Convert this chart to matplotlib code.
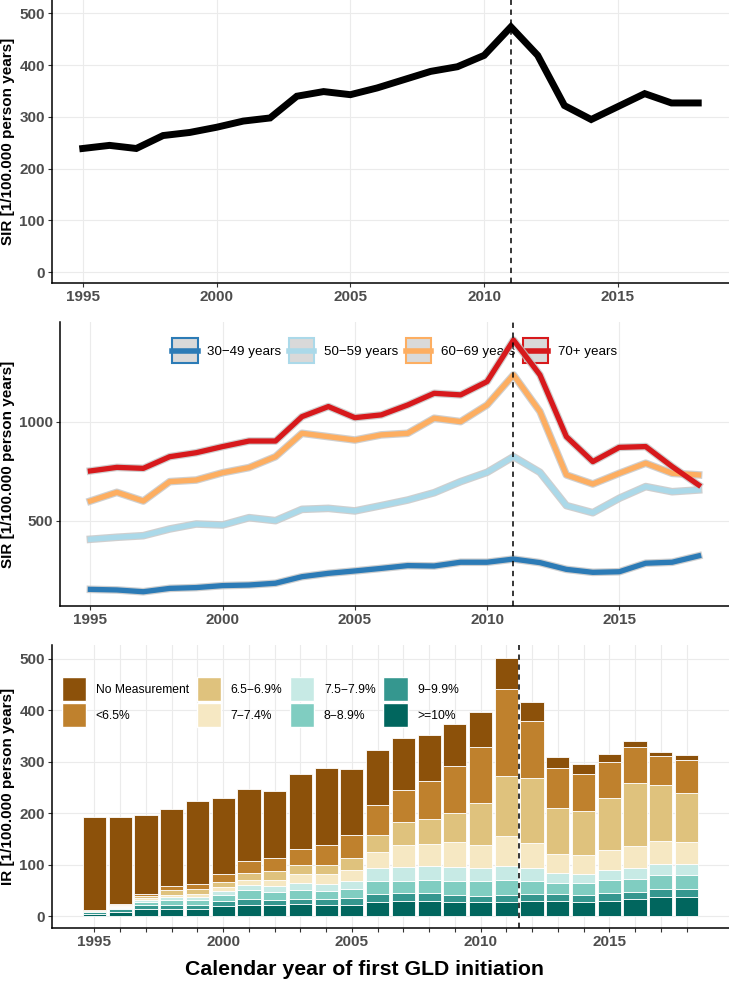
import matplotlib
matplotlib.use('Agg')
import matplotlib.pyplot as plt
from matplotlib.patches import Patch
from matplotlib.lines import Line2D
from matplotlib.legend_handler import HandlerLine2D

years = list(range(1995, 2019))

# overall SIR
sir_total = [239, 245, 239, 264, 270, 280, 292, 298, 340, 349, 343, 356,
             372, 388, 397, 419, 474, 419, 322, 295, 320, 345, 327, 327]

# SIR by age group
age_labels = ['30\u221249 years', '50\u221259 years', '60\u221269 years', '70+ years']
sir_30 = [153, 150, 141, 158, 162, 172, 175, 184, 217, 234, 246, 259,
          273, 271, 290, 290, 306, 288, 254, 239, 242, 285, 290, 322]
sir_50 = [406, 416, 424, 458, 483, 478, 515, 500, 557, 562, 549, 576,
          604, 641, 697, 744, 823, 744, 576, 540, 613, 672, 646, 655]
sir_60 = [599, 643, 599, 697, 705, 742, 768, 823, 941, 924, 907, 933,
          941, 1017, 1000, 1084, 1236, 1051, 731, 685, 739, 790, 739, 731]
sir_70 = [751, 769, 764, 823, 843, 874, 902, 902, 1025, 1076, 1020, 1034,
          1084, 1143, 1135, 1202, 1412, 1236, 924, 798, 870, 874, 773, 680]

# IR by HbA1c category, stacked bottom to top
hb_labels = ['>=10%', '9\u22129.9%', '8\u22128.9%', '7.5\u22127.9%',
             '7\u22127.4%', '6.5\u22126.9%', '<6.5%', 'No Measurement']
ge10 = [5, 8, 14, 14, 14, 19, 21, 21, 23, 21, 21, 27, 29, 29, 27, 27, 27, 29, 29, 27, 29, 33, 37, 38]
h9 = [3, 6, 7, 8, 8, 10, 13, 11, 11, 12, 14, 17, 16, 16, 15, 13, 15, 15, 15, 14, 16, 14, 16, 15]
h8 = [1.5, 2, 6, 10, 10, 13, 16, 15, 17, 16, 18, 25, 24, 26, 27, 28, 29, 25, 20, 24, 26, 26, 27, 27]
h75 = [0.5, 1.5, 5, 5, 6, 7, 10, 11, 13, 14, 15, 25, 26, 26, 26, 26, 26, 24, 20, 17, 19, 21, 22, 21]
h7 = [0.5, 2, 3, 5, 6, 7, 11, 13, 17, 18, 22, 31, 43, 43, 49, 45, 58, 50, 36, 36, 39, 43, 45, 43]
h65 = [0.5, 1.5, 4, 8, 9, 11, 13, 16, 18, 18, 24, 32, 45, 48, 57, 80, 117, 125, 90, 86, 100, 121, 107, 96]
lt65 = [1, 2, 4, 8, 9, 15, 24, 27, 31, 39, 43, 60, 63, 75, 91, 110, 170, 111, 78, 73, 71, 71, 57, 64]
nom = [180, 170, 154, 150, 162, 148, 139, 130, 147, 150, 129, 106,
       101, 90, 81, 68, 59, 37, 21, 18, 16, 11, 9, 10]

age_colors = ['#2C7BB6', '#ABD9E9', '#FDAE61', '#D7191C']
hb_colors = ['#01665E', '#35978F', '#80CDC1', '#C7EAE5',
             '#F6E8C3', '#DFC27D', '#BF812D', '#8C510A']

plt.rcParams['font.family'] = ['Liberation Sans', 'DejaVu Sans']
GRID = '#EBEBEB'
TICK = '#4D4D4D'


class CenterLine(HandlerLine2D):
    # put the legend line in the middle of the key box
    def create_artists(self, legend, orig_handle, xdescent, ydescent,
                       width, height, fontsize, trans):
        return super().create_artists(legend, orig_handle, xdescent, ydescent,
                                      width, height - ydescent, fontsize, trans)


def style_axis(ax, xlim, ylim, xticks, yticks, xgrid, ygrid):
    ax.set_xlim(*xlim)
    ax.set_ylim(*ylim)
    for s in ['top', 'right']:
        ax.spines[s].set_visible(False)
    for s in ['left', 'bottom']:
        ax.spines[s].set_linewidth(1.1)
    for x in xgrid:
        ax.axvline(x, color=GRID, lw=0.8, zorder=0)
    for y in ygrid:
        ax.axhline(y, color=GRID, lw=0.8, zorder=0)
    ax.set_xticks(xticks)
    ax.set_xticklabels([str(t) if t % 5 == 0 else '' for t in xticks])
    ax.set_yticks(yticks)
    ax.tick_params(length=2.7, width=0.8, color='#333333', pad=2.5,
                   labelsize=11, labelcolor=TICK)
    for lab in ax.get_xticklabels() + ax.get_yticklabels():
        lab.set_fontweight('bold')


fig = plt.figure(figsize=(7.29, 9.84), dpi=100)
ax1 = fig.add_axes([52 / 729, 1 - 283 / 984, 677 / 729, 283 / 984])
ax2 = fig.add_axes([60 / 729, 1 - 606 / 984, 669 / 729, 284 / 984])
ax3 = fig.add_axes([52 / 729, 1 - 928 / 984, 677 / 729, 283 / 984])

five = [1995, 2000, 2005, 2010, 2015]

# top: total SIR
style_axis(ax1, (1993.85, 2019.15), (-21, 526), five, range(0, 501, 100),
           five, range(0, 501, 100))
ax1.plot(years, sir_total, color='black', lw=5, solid_joinstyle='miter', zorder=3)
ax1.axvline(2011, color='black', ls=(0, (3.5, 3)), lw=1.1, zorder=4)
ax1.set_ylabel('SIR [1/100.000 person years]', fontsize=11, fontweight='bold')
ax1.yaxis.set_label_coords(-0.0547, 0.5)

# middle: SIR by age
style_axis(ax2, (1993.85, 2019.15), (69, 1503), five, [500, 1000],
           five, [500, 1000])
handles = []
for vals, c in zip([sir_30, sir_50, sir_60, sir_70], age_colors):
    ax2.plot(years, vals, color='#C4C4C4', lw=5.5, alpha=0.8, zorder=2)
    ax2.plot(years, vals, color=c, lw=3.8, zorder=3)
    handles.append((Patch(facecolor='#D9D9D9', edgecolor=c, lw=1.5),
                    Line2D([], [], color=c, lw=4)))
ax2.axvline(2011, color='black', ls=(0, (3.5, 3)), lw=1.1, zorder=4)
leg = ax2.legend(handles, age_labels, loc='upper center', ncol=4,
                 bbox_to_anchor=(0.5, 1 - 16 / 284), frameon=False,
                 fontsize=9.6, handlelength=1.9, handleheight=2.51,
                 handletextpad=0.7, columnspacing=0.6, borderpad=0,
                 borderaxespad=0, handler_map={Line2D: CenterLine()})
leg.set_zorder(1)
ax2.set_ylabel('SIR [1/100.000 person years]', fontsize=11, fontweight='bold')
ax2.yaxis.set_label_coords(-0.0673, 0.5)

# bottom: IR by HbA1c stacked bars
style_axis(ax3, (1993.35, 2019.65), (-23, 527), years, range(0, 501, 100),
           years, range(0, 501, 100))
bottom = [0] * len(years)
for vals, c in zip([ge10, h9, h8, h75, h7, h65, lt65, nom], hb_colors):
    ax3.bar(years, vals, bottom=bottom, width=0.9, color=c,
            edgecolor='white', linewidth=0.6, zorder=2)
    bottom = [b + v for b, v in zip(bottom, vals)]
ax3.axvline(2011.5, color='black', ls=(0, (3.5, 3)), lw=1.1, zorder=4)
order = [7, 6, 5, 4, 3, 2, 1, 0]
leg_handles = [Patch(facecolor=hb_colors[i], edgecolor='white', lw=1) for i in order]
ax3.legend(leg_handles, [hb_labels[i] for i in order], loc='upper left', ncol=4,
           bbox_to_anchor=(10 / 677, 1 - 32 / 283), frameon=False,
           fontsize=8.7, handlelength=2.0, handleheight=2.68,
           handletextpad=0.8, columnspacing=0.65, labelspacing=0.16,
           borderpad=0, borderaxespad=0)
ax3.set_ylabel('IR [1/100.000 person years]', fontsize=11, fontweight='bold')
ax3.yaxis.set_label_coords(-0.0547, 0.5)
ax3.set_xlabel('Calendar year of first GLD initiation', fontsize=15.3,
               fontweight='bold')
ax3.xaxis.set_label_coords((364.5 - 52) / 677, -0.113)

fig.savefig('out.png', dpi=100)
